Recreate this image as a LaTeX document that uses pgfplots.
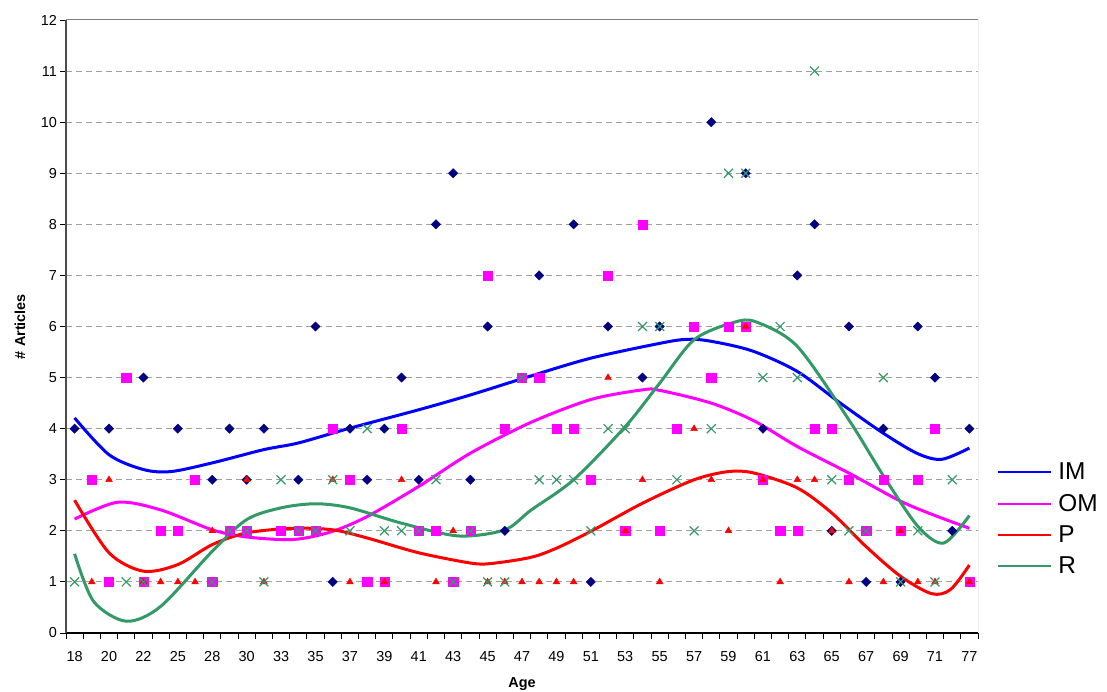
\documentclass[border=0pt]{standalone}
\usepackage{pgfplots}
\usepackage{pgfplotstable}
\usepackage{fontspec}
\setmainfont{Liberation Sans}
\pgfplotsset{compat=1.18}

\definecolor{imdark}{HTML}{000080}
\definecolor{imline}{HTML}{0000FF}
\definecolor{omcol}{HTML}{FF00FF}
\definecolor{pcol}{HTML}{FF0000}
\definecolor{rcol}{HTML}{339966}
\definecolor{gridgray}{HTML}{A0A0A0}

% one row per age category (i = position on the category axis)
\pgfplotstableread{
i  age IM  OM  P   R
0  18  4   nan nan 1
1  19  nan 3   1   nan
2  20  4   1   3   nan
3  21  nan 5   nan 1
4  22  5   1   1   1
5  23  nan 2   1   nan
6  25  4   2   1   nan
7  26  nan 3   1   nan
8  28  3   1   2   1
9  29  4   2   nan 2
10 30  3   2   3   2
11 31  4   nan 1   1
12 33  nan 2   nan 3
13 34  3   2   nan 2
14 35  6   2   nan 2
15 36  1   4   3   3
16 37  4   3   1   2
17 38  3   1   nan 4
18 39  4   1   1   2
19 40  5   4   3   2
20 41  3   2   nan 2
21 42  8   2   1   3
22 43  9   1   2   1
23 44  3   2   nan 2
24 45  6   7   1   1
25 46  2   4   1   1
26 47  nan 5   1   5
27 48  7   5   1   3
28 49  nan 4   1   3
29 50  8   4   1   3
30 51  1   3   nan 2
31 52  6   7   5   4
32 53  nan 2   2   4
33 54  5   8   3   6
34 55  6   2   1   6
35 56  nan 4   nan 3
36 57  nan 6   4   2
37 58  10  5   3   4
38 59  nan 6   2   9
39 60  9   6   6   9
40 61  4   3   3   5
41 62  nan 2   1   6
42 63  7   2   3   5
43 64  8   4   3   11
44 65  2   4   2   3
45 66  6   3   1   2
46 67  1   2   nan 2
47 68  4   3   1   5
48 69  1   2   2   1
49 70  6   3   1   2
50 71  5   4   1   1
51 73  2   nan nan 3
52 77  4   1   1   nan
}\articles

\begin{document}
\begin{tikzpicture}
\begin{axis}[
    name=ax,
    scale only axis,
    width=912bp, height=613bp,
    xmin=-0.5, xmax=52.5,
    ymin=0, ymax=12,
    axis lines*=left,
    x axis line style={black, line width=1.4bp},
    y axis line style={black!70, line width=1.6bp},
    tick align=outside,
    major tick length=5.5bp,
    tick style={black, line width=0.9bp},
    xtick={-0.5,0.5,...,52.5},
    xticklabels={},
    extra x ticks={0,2,...,52},
    extra x tick labels={18,20,22,25,28,30,33,35,37,39,41,43,45,47,49,51,53,55,57,59,61,63,65,67,69,71,77},
    extra x tick style={major tick length=0pt},
    xticklabel style={yshift=-15bp},
    ytick={0,...,12},
    ymajorgrids,
    grid style={gridgray, dash pattern=on 6bp off 4bp, line width=1bp},
    tick label style={font=\fontsize{14.5}{16}\selectfont},
    /pgf/number format/assume math mode=true,
    xlabel={\bfseries Age},
    xlabel style={at={(axis description cs:0.5,-0.0897)}, anchor=base,
        font=\fontsize{14.5}{16}\selectfont},
    ylabel={\bfseries \# Articles},
    ylabel style={at={(axis description cs:-0.0504,0.5)}, anchor=center,
        font=\fontsize{14.5}{16}\selectfont},
    legend style={at={(axis description cs:1.021,0.2777)}, anchor=north west,
        draw=none, fill=none, inner sep=0pt,
        font=\fontsize{24.5}{26}\selectfont, row sep=13bp,
        nodes={inner xsep=6bp, inner ysep=0bp}},
    legend cell align=left,
    legend image code/.code={\draw[#1, line width=2bp] (0bp,0bp) -- (53bp,0bp);},
]
\draw[black!50, line width=1bp] (rel axis cs:0,1) -- (rel axis cs:1,1) -- (rel axis cs:1,0);

\addplot[only marks, forget plot, mark=square*, mark size=3.3bp,
    mark options={rotate=45, draw=imdark, fill=imdark}] table[x=i, y=IM] {\articles};
\addplot[only marks, forget plot, mark=square*, mark size=4.6bp,
    mark options={draw=omcol, fill=omcol}] table[x=i, y=OM] {\articles};
\addplot[only marks, forget plot, mark=triangle*, mark size=3.9bp,
    mark options={draw=pcol, fill=pcol}] table[x=i, y=P] {\articles};
\addplot[only marks, forget plot, mark=x, mark size=6.3bp,
    mark options={draw=rcol, line width=1.2bp}] table[x=i, y=R] {\articles};

% trendlines
\addplot[imline, line width=3bp, smooth] coordinates {
    (0,4.21) (2,3.49) (4,3.20) (5.6,3.16) (8,3.33) (11,3.59) (13,3.72)
    (16,4.01) (20,4.37) (23,4.66) (26.5,5.03) (30,5.38) (34,5.67) (35.6,5.75)
    (37,5.71) (39.4,5.52) (42,5.12) (44.5,4.50) (47,3.91) (49,3.51) (50.4,3.40) (52,3.62)
};
\addlegendentry{IM}
\addplot[omcol, line width=3bp, smooth] coordinates {
    (0,2.23) (2.5,2.56) (5,2.41) (8,2.02) (10,1.88) (12.7,1.83) (14.9,1.98)
    (17,2.28) (20,2.87) (23,3.52) (26.5,4.12) (30,4.57) (33,4.76) (34,4.75)
    (37,4.50) (39.5,4.15) (42,3.65) (45,3.13) (48,2.58) (50,2.30) (52,2.05)
};
\addlegendentry{OM}
\addplot[pcol, line width=3bp, smooth] coordinates {
    (0,2.60) (2,1.57) (4,1.21) (6,1.34) (8,1.73) (10,1.96) (12.7,2.05) (15,2.02)
    (17,1.86) (20,1.57) (23,1.37) (24.2,1.36) (26.5,1.48) (28,1.66) (30,1.99)
    (33,2.54) (36,3.00) (38,3.16) (39.5,3.13) (42,2.84) (44,2.35) (46,1.69)
    (48,1.11) (49.8,0.77) (50.9,0.85) (52,1.33)
};
\addlegendentry{P}
\addplot[rcol, line width=3bp, smooth] coordinates {
    (0,1.55) (1.1,0.62) (3,0.23) (5,0.52) (8,1.60) (10,2.22) (12,2.45) (14,2.53)
    (16,2.45) (19,2.15) (22.3,1.90) (25,2.02) (26.5,2.40) (29,3.00) (32,4.04)
    (34,4.89) (36,5.74) (38.3,6.08) (39.6,6.09) (42,5.61) (45,4.17) (47,3.08)
    (49,2.09) (50.5,1.76) (52,2.30)
};
\addlegendentry{R}
\end{axis}
\pgfresetboundingbox
\path (ax.south west) ++(-66bp,-59bp) rectangle ++(1107bp,692bp);
\end{tikzpicture}
\end{document}
